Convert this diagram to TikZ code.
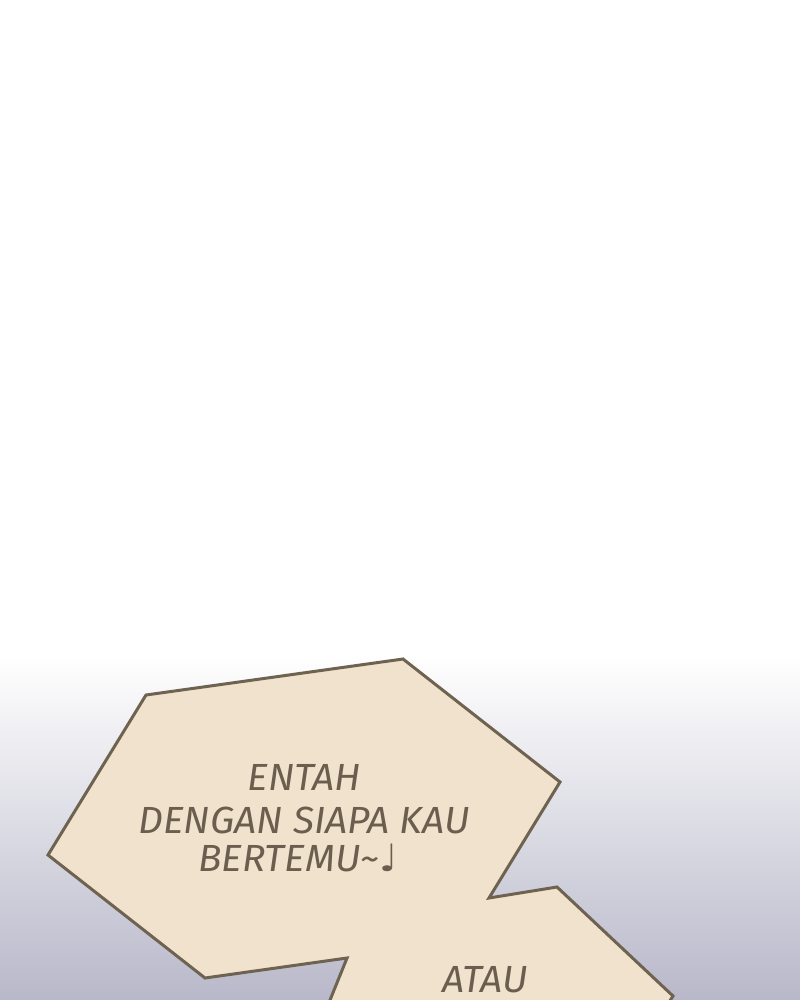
\documentclass[tikz,border=0pt]{standalone}
\usepackage{fontspec}
\setmainfont{Fira Sans}
\newfontfamily\notefont{DejaVu Sans}
\usepackage{xcolor}

\definecolor{bubblefill}{HTML}{F0E2CD}
\definecolor{bubbleline}{HTML}{6E6250}
\definecolor{inkbrown}{HTML}{6B5E4E}
\definecolor{skyend}{HTML}{B8B8CA}

\tikzset{
  bubble/.style={fill=bubblefill, draw=bubbleline, line width=1.7pt, line join=miter},
  speech/.style={text=inkbrown, font=\fontsize{21.5}{38}\selectfont\itshape, align=center, inner sep=0pt, xscale=1.03}
}

\begin{document}
\begin{tikzpicture}[x=0.02cm, y=-0.02cm]
		\useasboundingbox (0,0) rectangle (800,1000);
		\clip (0,0) rectangle (800,1000);

		% background
		\fill[white] (0,0) rectangle (800,660);
		\shade[top color=white, bottom color=skyend] (0,655) rectangle (800,1000);

		% speech bubble
		\draw[bubble] (146,695) -- (403,659) -- (560,782) -- (489,898) -- (557,887)
			-- (673,996) -- (664,1010) -- (326,1010) -- (347,958) -- (205,978) -- (48,855) -- cycle;

		\node[speech] (entah) at (304,777) {ENTAH};
		\node[speech] (dengan) at (304,820) {DENGAN SIAPA KAU};
		\node[speech] (bertemu) at (298,858) {BERTEMU\textasciitilde{\notefont ♩}};
		\node[speech] (atau) at (485,980) {ATAU};
\end{tikzpicture}
\end{document}
